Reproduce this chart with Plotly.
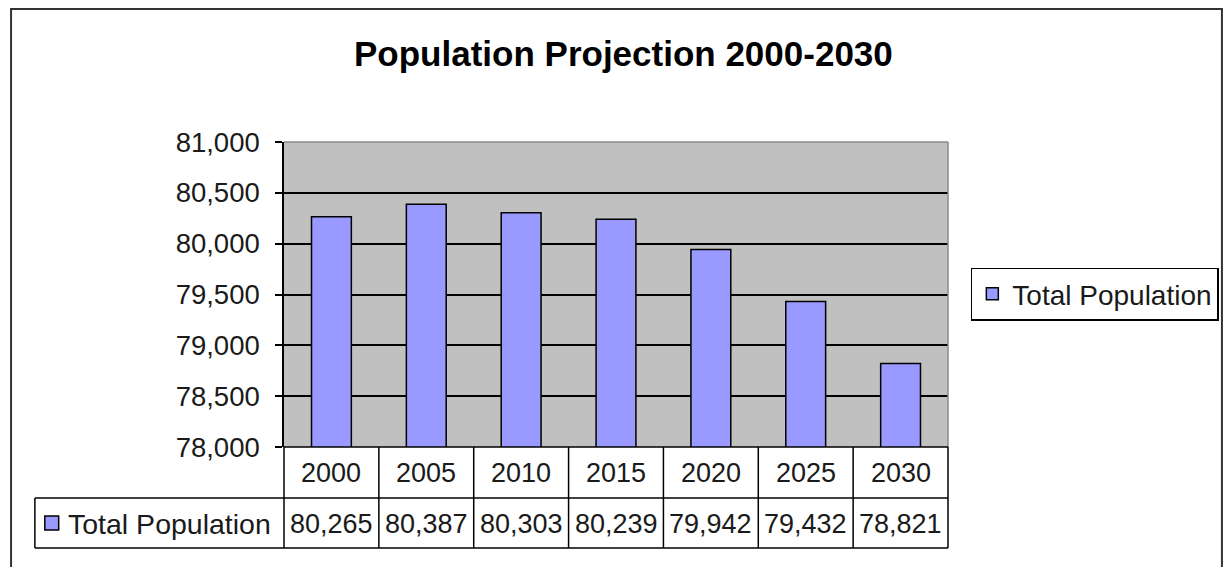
import plotly.graph_objects as go

years = ["2000", "2005", "2010", "2015", "2020", "2025", "2030"]
population = [80265, 80387, 80303, 80239, 79942, 79432, 78821]
series_name = "Total Population"
title_text = "Population Projection 2000-2030"

OFF = 8  # page offset of the figure in the screenshot
W, H = 1223, 559
L, R, T, B = 284 - OFF, 953 - OFF, 142 - OFF, 447 - OFF   # plot area in figure px
pw, ph = R - L, B - T

def px_x(p):
    return (p - OFF - L) / pw

def px_y(p):
    return (B - (p - OFF)) / ph

FONT = "Liberation Sans, Arial, sans-serif"
TXT = "#1a1a1a"
BAR = "#9999ff"

fig = go.Figure()
fig.add_trace(go.Bar(
    x=years, y=population, name=series_name,
    marker=dict(color=BAR, line=dict(color="black", width=1.5)),
    width=0.42,
))

shapes = []
n = len(years)
# outer frame
shapes.append(dict(type="rect", xref="paper", yref="paper",
                   x0=px_x(9), x1=px_x(1229), y0=px_y(640), y1=px_y(9),
                   line=dict(color="#333", width=2), layer="below"))
# plot area top/right border gray
shapes.append(dict(type="line", xref="paper", yref="paper", x0=0, x1=1, y0=1, y1=1,
                   line=dict(color="#8a8a8a", width=1.5)))
shapes.append(dict(type="line", xref="paper", yref="paper", x0=1, x1=1, y0=0, y1=1,
                   line=dict(color="#8a8a8a", width=1.5)))
# table
row1_bot = px_y(498)
row2_bot = px_y(548)
tbl_left = px_x(33)
for i in range(n + 1):
    shapes.append(dict(type="line", xref="paper", yref="paper",
                       x0=i / n, x1=i / n, y0=row2_bot, y1=0,
                       line=dict(color="black", width=1.5)))
shapes.append(dict(type="line", xref="paper", yref="paper", x0=0, x1=1, y0=0, y1=0,
                   line=dict(color="black", width=1.5)))
shapes.append(dict(type="line", xref="paper", yref="paper", x0=tbl_left, x1=1,
                   y0=row1_bot, y1=row1_bot, line=dict(color="black", width=1.5)))
shapes.append(dict(type="line", xref="paper", yref="paper", x0=tbl_left, x1=1,
                   y0=row2_bot, y1=row2_bot, line=dict(color="black", width=1.5)))
shapes.append(dict(type="line", xref="paper", yref="paper", x0=tbl_left, x1=tbl_left,
                   y0=row2_bot, y1=row1_bot, line=dict(color="black", width=1.5)))
# legend key in table
shapes.append(dict(type="rect", xref="paper", yref="paper",
                   x0=px_x(43), x1=px_x(57), y0=px_y(530), y1=px_y(516),
                   fillcolor=BAR, line=dict(color="black", width=1.5)))

annotations = []
annotations.append(dict(text="<b>" + title_text + "</b>", xref="paper", yref="paper",
                        x=px_x(626), y=px_y(53), showarrow=False,
                        font=dict(family=FONT, size=35, color="black"),
                        xanchor="center", yanchor="middle"))
row1_mid = px_y(473)
row2_mid = px_y(524)
for i, (yr, v) in enumerate(zip(years, population)):
    annotations.append(dict(text=yr, xref="x", yref="paper", x=i, y=row1_mid,
                            showarrow=False, xanchor="center", yanchor="middle",
                            font=dict(family=FONT, size=27, color=TXT)))
    annotations.append(dict(text=f"{v:,}", xref="x", yref="paper", x=i, y=row2_mid,
                            showarrow=False, xanchor="center", yanchor="middle",
                            font=dict(family=FONT, size=27, color=TXT)))
annotations.append(dict(text=series_name, xref="paper", yref="paper", x=px_x(64), y=row2_mid,
                        showarrow=False, xanchor="left", yanchor="middle",
                        font=dict(family=FONT, size=28.5, color=TXT)))

fig.update_layout(
    width=W, height=H, autosize=False,
    margin=dict(l=L, r=W - R, t=T, b=H - B, pad=0),
    paper_bgcolor="white", plot_bgcolor="#c0c0c0",
    font=dict(family=FONT, color=TXT),
    showlegend=True,
    legend=dict(x=px_x(976), y=px_y(294), xanchor="left", yanchor="middle",
                bordercolor="black", borderwidth=1.5, bgcolor="white",
                font=dict(family=FONT, size=28, color=TXT),
                itemwidth=30, tracegroupgap=0),
    xaxis=dict(type="category", range=[-0.5, n - 0.5], showticklabels=False,
               showgrid=False, zeroline=False, showline=False, ticks=""),
    yaxis=dict(range=[78000, 81000], dtick=500, tickformat=",d",
               showgrid=True, gridcolor="black", gridwidth=1.5,
               showline=True, linecolor="black", linewidth=1.5,
               ticks="outside", ticklen=7, tickwidth=1.5, tickcolor="black",
               ticklabelstandoff=10, zeroline=False,
               tickfont=dict(family=FONT, size=27.5, color=TXT)),
    shapes=shapes, annotations=annotations,
)

fig.write_html("out.html")
